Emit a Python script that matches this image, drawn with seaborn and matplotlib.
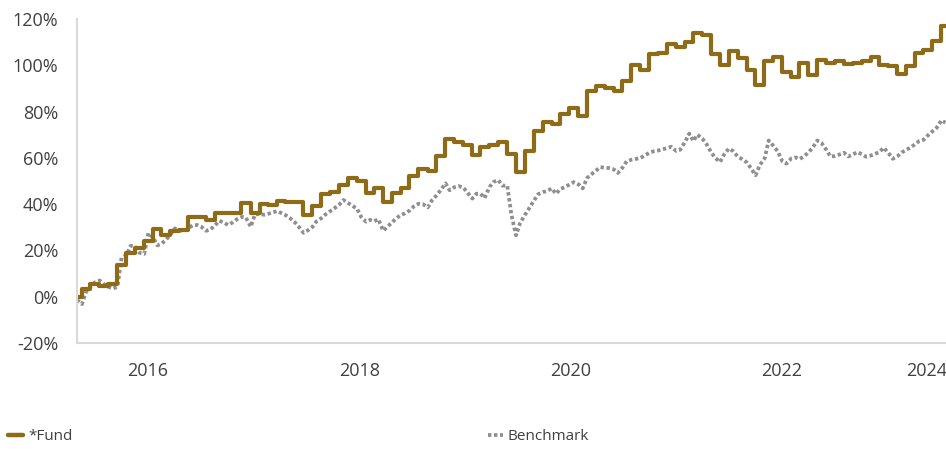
import pandas as pd
import numpy as np
import matplotlib.pyplot as plt
import seaborn as sns
from matplotlib.lines import Line2D
from matplotlib.ticker import FuncFormatter, NullFormatter

# fund: inception, then month-end values (%), then latest value
fund_inception = '2015-05-15'
fund_latest = '2023-07-17'
fund_values = [0, 0,
    3.5, 5.5, 4.5, 5.5, 13.8, 18.9, 21, 23.9, 29.4, 26.8,
    28.5, 28.7, 34.5, 34.5, 33, 36, 36, 36.3, 40.5, 36,
    40, 39.5, 41.5, 41, 41, 35.4, 39, 44.5, 45.4, 48.4,
    51.4, 50, 45, 47, 41, 45, 47, 52, 55, 54.5,
    61, 68, 67, 65.7, 61.3, 64.8, 65.7, 67, 61.8, 54,
    63, 71.7, 75.5, 74.5, 79, 81.6, 78, 89, 91, 90.3,
    89, 93, 100, 97.8, 105, 105.3, 109.3, 107.7, 110, 114,
    113, 105, 100, 106, 103, 98, 91.6, 102, 103.5, 97,
    95, 101, 96, 102.4, 101, 101.7, 100.5, 101.2, 102, 103.4,
    100, 99.7, 96.3, 99.5, 105.5, 106.5, 110.3, 116.8]

# benchmark, semi-monthly readings (%)
bench_start = '2015-05-15'
bench_values = [
    -1.3, -3.2, 2.0, 4.4, 6.2, 7.0, 5.5, 4.2, 3.5, 4.3,
    16.8, 18, 22, 21.5, 19, 18.5, 27.5, 25.5, 22.2, 23,
    24.5, 27, 29.5, 28.8, 28.3, 29.6, 30.8, 31, 30.2, 28.5,
    29, 31, 32.8, 32, 31, 32.2, 33.5, 34.5, 34.2, 30.2,
    35.5, 35.8, 35.4, 35.8, 36.3, 37, 36.2, 35.2, 34, 32.2,
    30.2, 27.6, 28.6, 30.2, 32.6, 34, 35.6, 37, 38.2, 39.8,
    41.8, 40.5, 39.4, 38, 34.5, 32.4, 33.2, 32.6, 33.5, 28.5,
    30.2, 32.2, 33.8, 35.4, 36, 37.3, 39, 40.2, 40, 38.6,
    41.6, 43.8, 46, 49, 46, 47.3, 47.8, 47.2, 45, 42.4,
    44.5, 44.5, 42.6, 47.4, 49.6, 50.4, 48, 48, 35.5, 26.5,
    31.8, 35.4, 38.2, 41.6, 44.3, 45.2, 45.6, 46.8, 44.5, 46.6,
    47.3, 48.5, 49.5, 48.5, 46.8, 51.3, 52.8, 54.5, 56, 55.7,
    55.6, 55, 53.5, 55.8, 58.5, 59.2, 59.5, 60, 61, 62.2,
    62.8, 63.2, 63.7, 64.2, 64.8, 63, 63.5, 67, 70.5, 67.3,
    70, 68.3, 66, 62.5, 60, 58.2, 61.5, 64, 63, 60.5,
    59.5, 58, 55.5, 52.5, 56.8, 59.8, 67.5, 65.2, 63, 58.5,
    57.5, 59.8, 60.2, 59.5, 60.5, 62.4, 64.4, 67.5, 66.5, 63.5,
    60.6, 60.8, 61.4, 62.2, 60.6, 61.5, 62.5, 61.6, 60.5, 61,
    61.7, 62.6, 64.4, 62, 59.6, 60.8, 62.3, 63.4, 64.3, 65.8,
    67.2, 67.8, 69.6, 71.5, 73, 76.2, 75.2]

year_labels = ['2016', '2018', '2020', '2022', '2024']

fund_dates = ([pd.Timestamp(fund_inception)]
              + list(pd.date_range('2015-05-31', '2023-06-30', freq='ME'))
              + [pd.Timestamp(fund_latest)])
df_fund = pd.DataFrame({'date': fund_dates, 'value': fund_values})
df_bench = pd.DataFrame({'date': pd.date_range(bench_start, periods=len(bench_values), freq='SMS'),
                         'value': bench_values})

fund_color = '#8E6B17'
bench_color = '#8F8F8F'
axis_color = '#D9D9D9'
text_color = '#404040'

sns.set_style('white')
plt.rcParams['font.family'] = ['Open Sans', 'DejaVu Sans']

fig, ax = plt.subplots(figsize=(9.46, 4.5), dpi=100)
fig.subplots_adjust(left=77/946, right=1.0, bottom=1-343/450, top=1-19/450)

sns.lineplot(x='date', y='value', data=df_bench, ax=ax, color=bench_color,
             linewidth=2.7, linestyle=(0, (0.9, 0.7)), legend=False)
sns.lineplot(x='date', y='value', data=df_fund, ax=ax, color=fund_color,
             linewidth=3.0, drawstyle='steps-pre', legend=False)
ax.set(xlabel='', ylabel='')

ax.set_ylim(-20, 120)
ax.set_yticks(range(-20, 121, 20))
ax.yaxis.set_major_formatter(FuncFormatter(lambda v, p: f'{v:.0f}%'))

ax.set_xlim(pd.Timestamp(fund_inception), pd.Timestamp(fund_latest))
tick_dates = pd.to_datetime(['2015-05-15', '2016-04-15', '2018-04-10', '2020-04-04', '2022-04-02'])
label_dates = pd.to_datetime(['2016-01-14', '2018-01-08', '2020-01-06', '2021-12-31', '2023-05-13'])
ax.set_xticks(tick_dates)
ax.xaxis.set_major_formatter(NullFormatter())
ax.set_xticks(label_dates, labels=year_labels, minor=True)

for s in ['top', 'right']:
    ax.spines[s].set_visible(False)
for s in ['left', 'bottom']:
    ax.spines[s].set_color(axis_color)
    ax.spines[s].set_linewidth(1.5)

ax.tick_params(axis='x', which='major', length=11, width=1.2, color=axis_color, direction='out')
ax.tick_params(axis='x', which='minor', length=0, pad=13.5, labelsize=13, labelcolor=text_color)
ax.tick_params(axis='y', length=9.5, width=1.2, color=axis_color, pad=4, labelsize=13, labelcolor=text_color)

h_fund = Line2D([], [], color=fund_color, linewidth=3.2)
h_bench = Line2D([], [], color=bench_color, linewidth=2.7, linestyle=(0, (0.9, 0.7)))
leg_kw = dict(loc='center left', frameon=False, fontsize=11, labelcolor=text_color,
              handlelength=1.0, handletextpad=0.3, borderpad=0, borderaxespad=0)
fig.legend(handles=[h_fund], labels=['*Fund'], bbox_to_anchor=(8/946, 1-437/450), **leg_kw)
fig.legend(handles=[h_bench], labels=['Benchmark'], bbox_to_anchor=(488/946, 1-437/450), **leg_kw)

plt.savefig('out.png', dpi=100)
